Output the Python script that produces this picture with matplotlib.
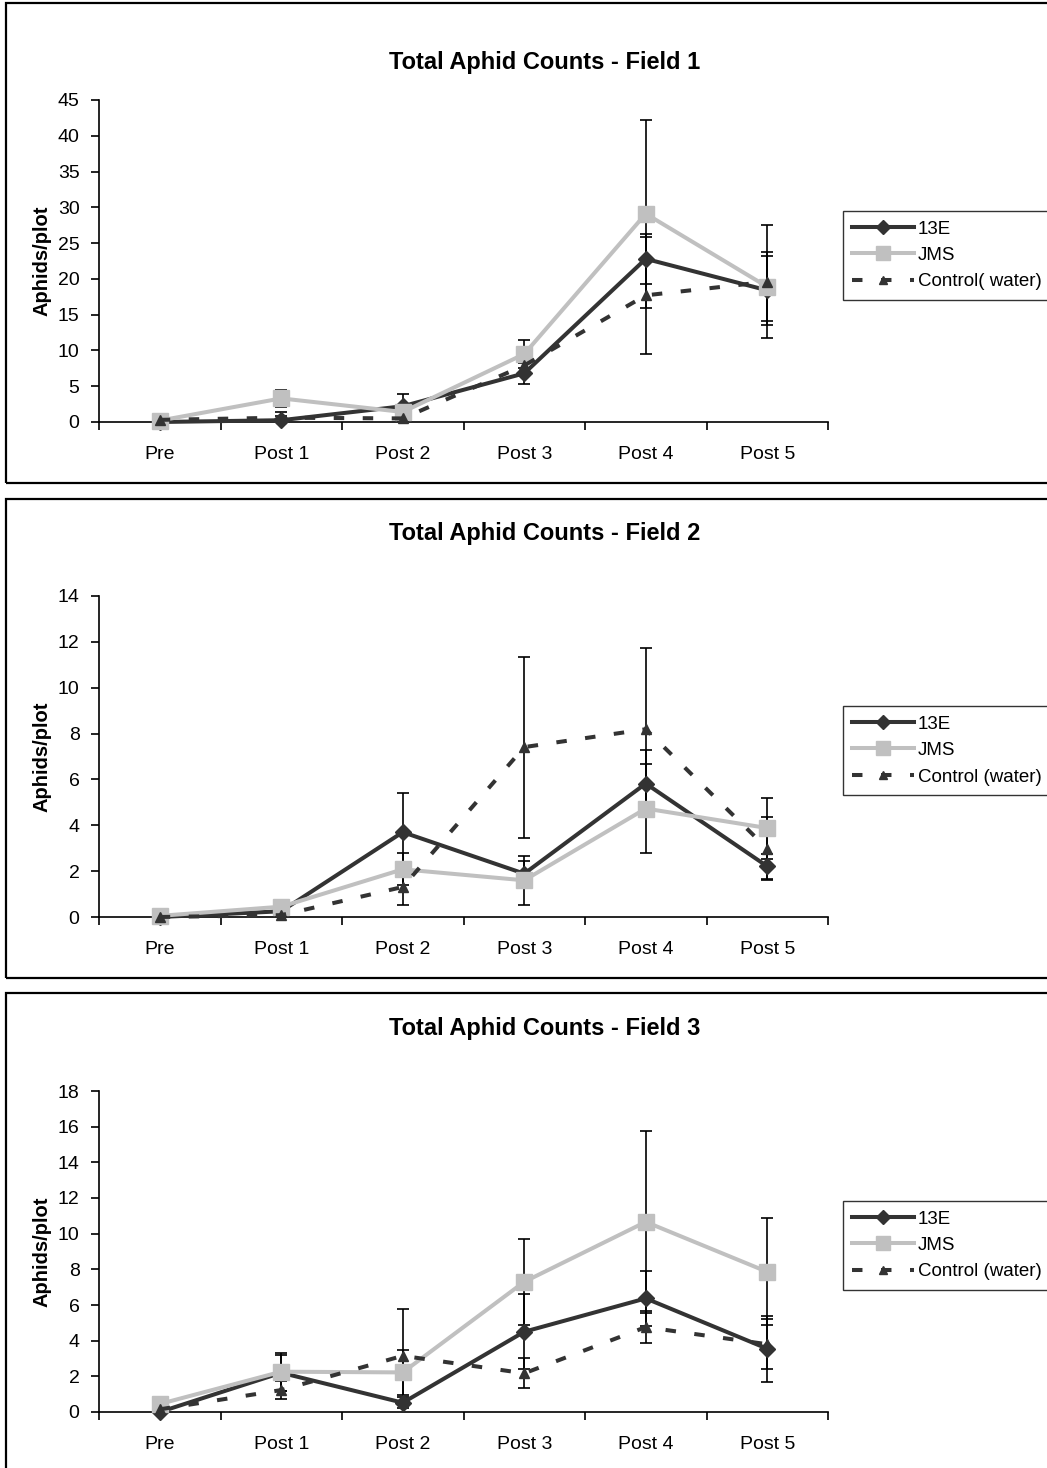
import matplotlib
matplotlib.use("Agg")
import matplotlib.pyplot as plt
from matplotlib.patches import Rectangle
import numpy as np

plt.rcParams['font.family'] = ['Liberation Sans', 'DejaVu Sans']

categories = ["Pre", "Post 1", "Post 2", "Post 3", "Post 4", "Post 5"]

# Field 1
f1_13e = [0.0, 0.25, 2.2, 6.8, 22.8, 18.4]
f1_13e_err = [0.0, 1.2, 1.7, 1.5, 3.5, 4.8]
f1_jms = [0.2, 3.3, 1.4, 9.5, 29.1, 18.9]
f1_jms_err = [0.0, 1.2, 0.5, 1.9, 13.1, 4.8]
f1_ctl = [0.3, 0.6, 0.5, 7.9, 17.7, 19.6]
f1_ctl_err = [0.0, 0.3, 0.3, 1.0, 8.2, 7.9]

# Field 2
f2_13e = [0.0, 0.25, 3.7, 1.89, 5.82, 2.21]
f2_13e_err = [0.0, 0.1, 1.7, 0.54, 1.45, 0.55]
f2_jms = [0.05, 0.45, 2.08, 1.6, 4.73, 3.88]
f2_jms_err = [0.0, 0.1, 0.7, 1.06, 1.95, 1.33]
f2_ctl = [0.0, 0.08, 1.31, 7.41, 8.19, 2.98]
f2_ctl_err = [0.0, 0.05, 0.77, 3.95, 3.56, 1.36]

# Field 3
f3_13e = [0.0, 2.2, 0.52, 4.5, 6.37, 3.55]
f3_13e_err = [0.0, 1.0, 0.3, 2.1, 1.53, 1.85]
f3_jms = [0.45, 2.26, 2.22, 7.3, 10.66, 7.86]
f3_jms_err = [0.0, 1.06, 1.27, 2.4, 5.1, 3.0]
f3_ctl = [0.15, 1.23, 3.15, 2.17, 4.76, 3.8]
f3_ctl_err = [0.0, 0.5, 2.6, 0.85, 0.9, 1.4]

titles = ["Total Aphid Counts - Field 1", "Total Aphid Counts - Field 2",
          "Total Aphid Counts - Field 3"]
ctl_labels = ["Control( water)", "Control (water)", "Control (water)"]
ymaxes = [45, 14, 18]
ysteps = [5, 2, 2]

panels = [
    (f1_13e, f1_13e_err, f1_jms, f1_jms_err, f1_ctl, f1_ctl_err),
    (f2_13e, f2_13e_err, f2_jms, f2_jms_err, f2_ctl, f2_ctl_err),
    (f3_13e, f3_13e_err, f3_jms, f3_jms_err, f3_ctl, f3_ctl_err),
]

W, H = 1047, 1468
fig = plt.figure(figsize=(W / 100, H / 100), dpi=100)

# panel boxes (pixel coords: top, bottom)
boxes = [(3, 483), (499, 978), (993, 1480)]
ax_tb = [(100, 422), (596, 917), (1091, 1412)]
title_y = [62, 533, 1028]
legend_top = [211, 706, 1201]

dark = "#333333"
light = "#c0c0c0"
x = np.arange(len(categories)) + 0.5

for i, (e13, e13err, jms, jmserr, ctl, ctlerr) in enumerate(panels):
    t, b = boxes[i]
    fig.patches.append(Rectangle((6 / W, 1 - b / H), 1.2, (b - t) / H,
                                 transform=fig.transFigure, fill=False,
                                 edgecolor="black", linewidth=1.6, zorder=0))
    at, ab = ax_tb[i]
    ax = fig.add_axes([99 / W, 1 - ab / H, (828 - 99) / W, (ab - at) / H])
    ax.set_facecolor("none")

    ax.errorbar(x, e13, yerr=e13err, fmt="none", ecolor="black",
                elinewidth=1.2, capsize=4.5, capthick=1.2, zorder=1.5)
    ax.errorbar(x, jms, yerr=jmserr, fmt="none", ecolor="black",
                elinewidth=1.2, capsize=4.5, capthick=1.2, zorder=1.5)
    ax.errorbar(x, ctl, yerr=ctlerr, fmt="none", ecolor="black",
                elinewidth=1.2, capsize=4.5, capthick=1.2, zorder=1.5)

    ax.plot(x, e13, color=dark, linewidth=2.9, marker="D", markersize=8.5,
            markerfacecolor=dark, markeredgecolor=dark, label="13E",
            zorder=3, clip_on=False)
    ax.plot(x, jms, color=light, linewidth=2.9, marker="s", markersize=12,
            markerfacecolor=light, markeredgecolor=light, label="JMS",
            zorder=4, clip_on=False)
    ax.plot(x, ctl, color=dark, linewidth=2.9, linestyle=(0, (2.6, 4.6)),
            marker="^", markersize=7.5, markerfacecolor=dark,
            markeredgecolor=dark, label=ctl_labels[i], zorder=5,
            clip_on=False)

    ax.set_xlim(0, len(categories))
    ax.set_ylim(0, ymaxes[i])
    ax.set_yticks(np.arange(0, ymaxes[i] + 0.1, ysteps[i]))
    ax.set_xticks(np.arange(0, len(categories) + 1))
    ax.set_xticklabels([])
    ax.set_xticks(x, minor=True)
    ax.set_xticklabels(categories, minor=True)
    ax.tick_params(axis="x", which="major", direction="out", length=6,
                   width=1.2, color="black")
    ax.tick_params(axis="x", which="minor", length=0, pad=17, labelsize=14)
    ax.tick_params(axis="y", direction="out", length=6, width=1.2,
                   labelsize=14, pad=8)
    for s in ["top", "right"]:
        ax.spines[s].set_visible(False)
    for s in ["left", "bottom"]:
        ax.spines[s].set_linewidth(1.2)

    fig.text(42 / W, 1 - (at + ab) / 2 / H, "Aphids/plot", rotation=90,
             ha="center", va="center", fontsize=14.5, fontweight="bold")

    fig.text(545 / W, 1 - title_y[i] / H, titles[i], ha="center",
             va="center", fontsize=17, fontweight="bold")

    leg = ax.legend(loc="upper left",
                    bbox_to_anchor=(843 / W, 1 - legend_top[i] / H),
                    bbox_transform=fig.transFigure, frameon=True,
                    fancybox=False, edgecolor="black", fontsize=13.5,
                    handlelength=3.3, handletextpad=0.2, borderpad=0.5,
                    labelspacing=0.5, borderaxespad=0)
    leg.get_frame().set_linewidth(1.0)
    for line in leg.get_lines():
        line.set_markersize(line.get_markersize() * 0.8)

fig.savefig("out.png", dpi=100)
